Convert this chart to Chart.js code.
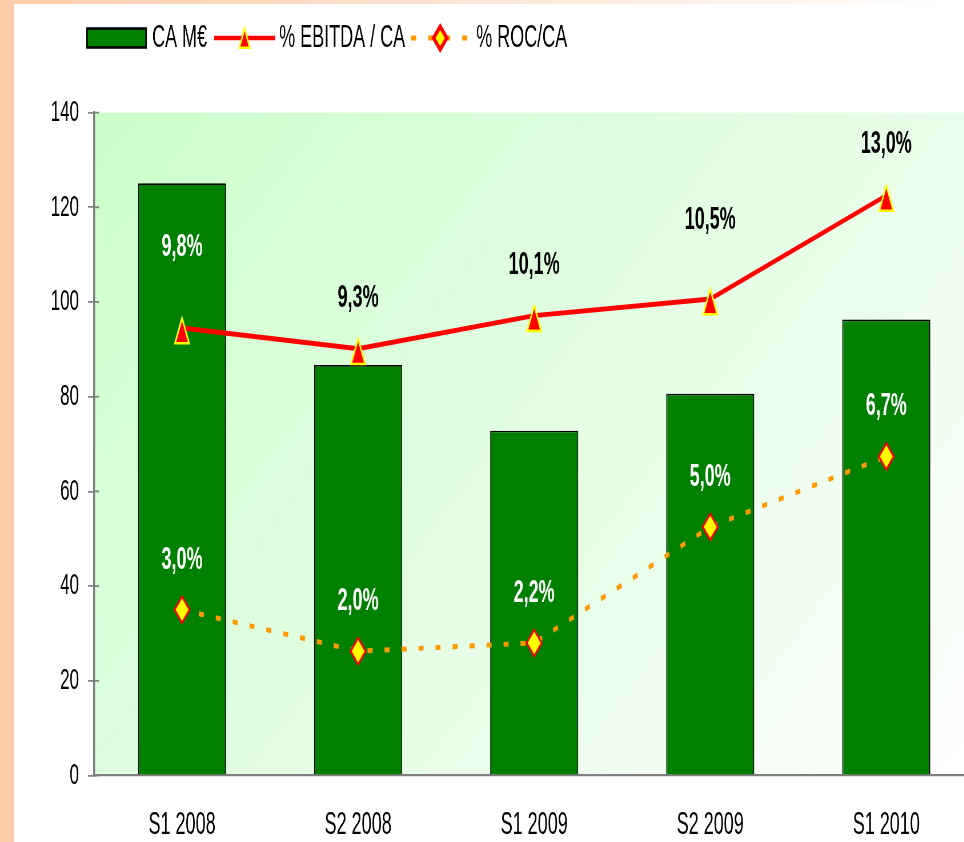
<!DOCTYPE html>
<html>
<head>
<meta charset="utf-8">
<title>CA et marges</title>
<script src="https://cdn.jsdelivr.net/npm/chart.js@4/dist/chart.umd.min.js"></script>
<style>
  html, body { margin: 0; padding: 0; background: #fff; overflow: hidden; }
  #wrap { position: relative; width: 964px; height: 842px; overflow: hidden; }
  #side { position: absolute; left: 0; top: 0; width: 14px; height: 842px; background: #ffccaa; z-index: 2; }
  #band { position: absolute; left: 0; top: 0; width: 964px; height: 4px; z-index: 2;
          background: linear-gradient(to right, #ffccaa, #ffffff); }
  #chart { position: absolute; left: 0; top: 0; }
</style>
</head>
<body>
<div id="wrap">
  <div id="side"></div>
  <div id="band"></div>
  <!-- drawn at 983x481 and stretched to 842px tall, like the squashed original -->
  <canvas id="chart" width="983" height="481" style="width:983px;height:842px"></canvas>
</div>
<script>
// ---------------- data ----------------
const periods = ['S1 2008', 'S2 2008', 'S1 2009', 'S2 2009', 'S1 2010'];
const caMillions = [125.1, 86.7, 72.8, 80.6, 96.3];   // CA M€
const ebitdaPct = [9.8, 9.3, 10.1, 10.5, 13.0];       // % EBITDA / CA
const rocPct = [3.0, 2.0, 2.2, 5.0, 6.7];             // % ROC/CA
const caAxis = { min: 0, max: 140, step: 20 };
const pctAxis = { min: -1, max: 15 };                 // hidden right axis

const STRETCH = 842.4 / 481;
const FONT = '"Liberation Sans", Arial, sans-serif';
const GREEN = '#008000', RED = '#ff0000', YELLOW = '#ffff00', ORANGE = '#ff9900';

Chart.defaults.font.family = FONT;
Chart.defaults.color = '#000';

const fmtPct = v => v.toFixed(1).replace('.', ',') + '%';

// excel-ish triangle marker, centred on its box
function drawTriangle(ctx, x, y, halfW, halfH) {
  ctx.save();
  ctx.fillStyle = RED;
  ctx.strokeStyle = YELLOW;
  ctx.lineWidth = 1.5;
  ctx.lineJoin = 'miter';
  ctx.beginPath();
  ctx.moveTo(x, y - halfH);
  ctx.lineTo(x + halfW, y + halfH);
  ctx.lineTo(x - halfW, y + halfH);
  ctx.closePath();
  ctx.fill();
  ctx.stroke();
  ctx.restore();
}

// light green wash behind the plot
const plotBackground = {
  id: 'plotBackground',
  beforeDraw(chart) {
    const { ctx, chartArea: a } = chart;
    const g = ctx.createLinearGradient(a.left, a.top, a.left + 498, a.top + 664);
    g.addColorStop(0, '#ccffcc');
    g.addColorStop(0.5, '#e3fde3');
    g.addColorStop(1, '#ffffff');
    ctx.save();
    ctx.fillStyle = g;
    ctx.fillRect(a.left, a.top, chart.width - a.left, a.bottom - a.top);
    ctx.restore();
  }
};

// little tick stubs poking into the plot
const innerTicks = {
  id: 'innerTicks',
  afterDraw(chart) {
    const { ctx, scales: { y } } = chart;
    ctx.save();
    ctx.strokeStyle = '#808080';
    ctx.lineWidth = 1;
    y.ticks.forEach(t => {
      const py = y.getPixelForValue(t.value);
      ctx.beginPath();
      ctx.moveTo(y.right, py);
      ctx.lineTo(y.right + 5, py);
      ctx.stroke();
    });
    ctx.restore();
  }
};

// triangles on the EBITDA line + percentage labels
const ebitdaLift = [46, 29, 29, 45, 29];
const rocLift = 28.5;
const valueLabels = {
  id: 'valueLabels',
  afterDatasetsDraw(chart) {
    const ctx = chart.ctx;
    const bars = chart.getDatasetMeta(0).data;
    chart.getDatasetMeta(1).data.forEach(pt => drawTriangle(ctx, pt.x, pt.y + 1.5, 7, 7.2));

    ctx.save();
    ctx.font = 'bold 18px ' + FONT;
    ctx.textAlign = 'center';
    ctx.textBaseline = 'middle';
    const put = (meta, values, lift) => {
      meta.data.forEach((pt, i) => {
        const y = pt.y - (Array.isArray(lift) ? lift[i] : lift);
        ctx.fillStyle = y > bars[i].y + 6 ? '#fff' : '#000';
        ctx.fillText(fmtPct(values[i]), pt.x, y);
      });
    };
    put(chart.getDatasetMeta(1), ebitdaPct, ebitdaLift);
    put(chart.getDatasetMeta(2), rocPct, rocLift);
    ctx.restore();
  }
};

// legend row at the top left
const topLegend = {
  id: 'topLegend',
  afterDraw(chart) {
    const ctx = chart.ctx;
    const cy = 38 / STRETCH;
    let x = 87;
    ctx.save();
    ctx.font = '18px ' + FONT;
    ctx.textBaseline = 'middle';

    // CA M€
    ctx.fillStyle = GREEN;
    ctx.strokeStyle = '#000';
    ctx.lineWidth = 1.5;
    ctx.fillRect(x, cy - 5.4, 59, 10.8);
    ctx.strokeRect(x, cy - 5.4, 59, 10.8);
    x += 59 + 6;
    ctx.fillStyle = '#000';
    ctx.fillText('CA M€', x, cy);
    x += ctx.measureText('CA M€').width + 7;

    // % EBITDA / CA
    ctx.strokeStyle = RED;
    ctx.lineWidth = 2.6;
    ctx.beginPath();
    ctx.moveTo(x, cy);
    ctx.lineTo(x + 61, cy);
    ctx.stroke();
    drawTriangle(ctx, x + 30.5, cy, 5.2, 5.6);
    x += 61 + 4;
    ctx.fillStyle = '#000';
    ctx.fillText('% EBITDA / CA', x, cy);
    x += ctx.measureText('% EBITDA / CA').width + 6;

    // % ROC/CA
    ctx.strokeStyle = ORANGE;
    ctx.lineWidth = 2.8;
    ctx.setLineDash([5, 12]);
    ctx.beginPath();
    ctx.moveTo(x, cy);
    ctx.lineTo(x + 60, cy);
    ctx.stroke();
    ctx.setLineDash([]);
    ctx.fillStyle = YELLOW;
    ctx.strokeStyle = RED;
    Chart.helpers.drawPoint(ctx, { pointStyle: 'rectRot', radius: 6.6, borderWidth: 1.5 }, x + 29, cy);
    x += 60 + 5;
    ctx.fillStyle = '#000';
    ctx.fillText('% ROC/CA', x, cy);
    ctx.restore();
  }
};

new Chart(document.getElementById('chart'), {
  type: 'bar',
  data: {
    labels: periods,
    datasets: [
      {
        label: 'CA M€',
        data: caMillions,
        backgroundColor: GREEN,
        borderColor: '#000',
        borderWidth: 1,
        categoryPercentage: 1,
        barPercentage: 0.5,
        yAxisID: 'y',
        order: 3
      },
      {
        type: 'line',
        label: '% EBITDA / CA',
        data: ebitdaPct,
        yAxisID: 'y1',
        borderColor: RED,
        borderWidth: 2.8,
        tension: 0,
        pointRadius: 0,
        order: 1
      },
      {
        type: 'line',
        label: '% ROC/CA',
        data: rocPct,
        yAxisID: 'y1',
        borderColor: ORANGE,
        borderWidth: 2.8,
        borderDash: [5, 12],
        borderCapStyle: 'butt',
        tension: 0,
        pointStyle: 'rectRot',
        pointRadius: 7.5,
        pointBackgroundColor: YELLOW,
        pointBorderColor: RED,
        pointBorderWidth: 1.5,
        order: 2
      }
    ]
  },
  options: {
    responsive: false,
    animation: false,
    devicePixelRatio: STRETCH,
    layout: { padding: { top: 64.3, right: 0, bottom: 0, left: 0 } },
    plugins: {
      legend: { display: false },
      tooltip: { enabled: false }
    },
    scales: {
      x: {
        grid: { display: false, drawTicks: false },
        border: { display: true, color: '#808080', width: 1.3 },
        ticks: { font: { size: 18 }, color: '#000', padding: 17.5 },
        afterFit(scale) { scale.height = 38.2; }
      },
      y: {
        min: caAxis.min,
        max: caAxis.max,
        ticks: { stepSize: caAxis.step, font: { size: 17 }, color: '#000', padding: 9 },
        grid: { drawOnChartArea: false, tickLength: 6, color: '#808080', lineWidth: 1 },
        border: { color: '#808080', width: 2 },
        afterFit(scale) { scale.width = 94; }
      },
      y1: {
        display: false,
        position: 'right',
        min: pctAxis.min,
        max: pctAxis.max
      }
    }
  },
  plugins: [plotBackground, valueLabels, innerTicks, topLegend]
});
</script>
</body>
</html>
